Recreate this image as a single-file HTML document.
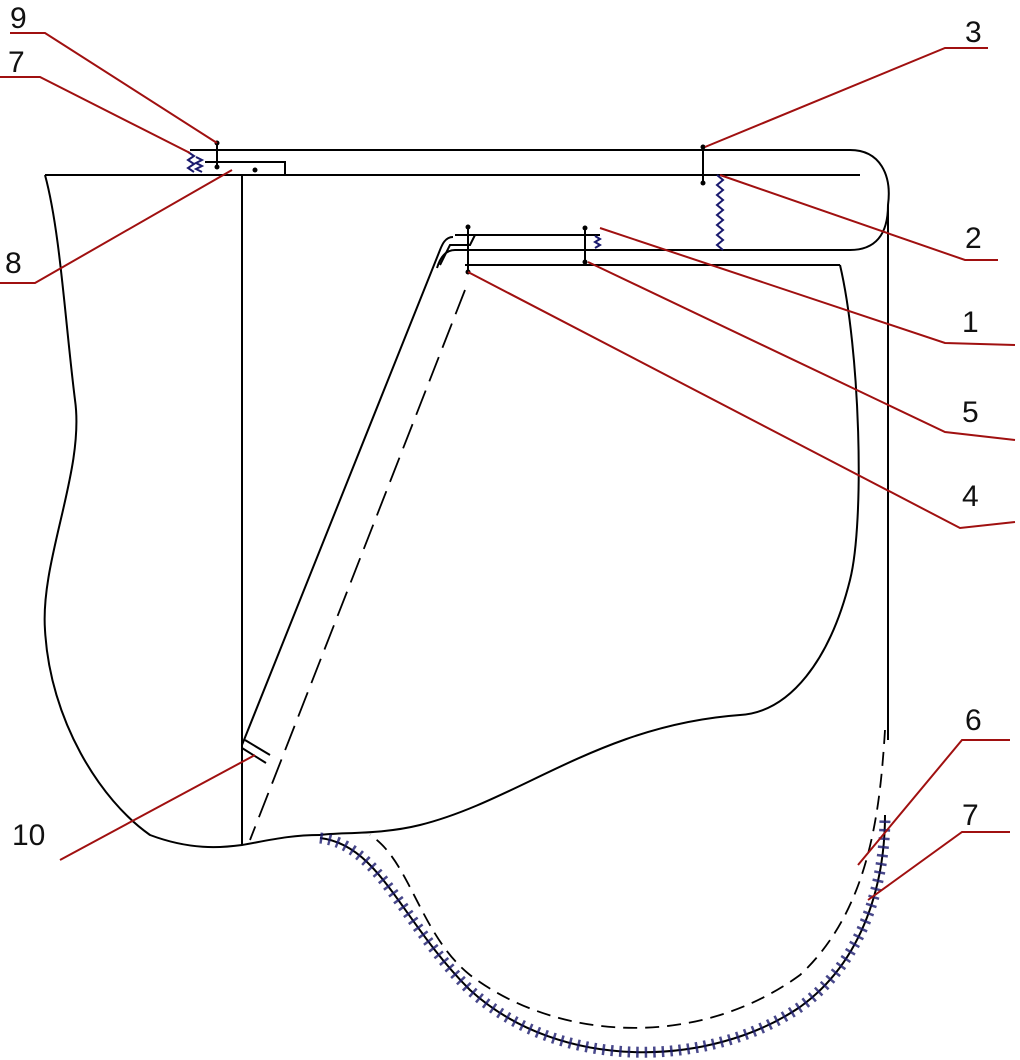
<!DOCTYPE html>
<html><head><style>body{margin:0;background:#fff}svg{display:block}text{font-family:"Liberation Sans",sans-serif;font-size:30px;fill:#111}</style></head>
<body>
<svg width="1020" height="1060" viewBox="0 0 1020 1060" xmlns="http://www.w3.org/2000/svg">
<g fill="none" stroke="#000" stroke-width="2">
<path d="M190,150 L850,150 C880,150 892,175 888,205 L888,740"/>
<path d="M888,205 C888,235 875,250 850,250 L455,250 C445,250 440,258 437,268"/>
<path d="M45,175 L860,175"/>
<path d="M285,175 L285,162 L205,162"/>
<path d="M455,235 L600,235"/>
<path d="M475,235 L470,245 L450,245 L440,265"/>
<path d="M453,237 C445,237 442,245 440,250 L242,745"/>
<path d="M465,265 L840,265"/>
<path d="M840,265 C860,350 865,520 850,580 C830,660 790,712 740,715 C600,725 520,800 420,825 C380,835 340,832 320,835"/>
<path d="M45,175 C60,230 65,320 75,400 C85,470 40,560 45,630 C50,720 100,800 150,835 C190,850 220,848 242,845 C270,840 290,835 320,835"/>
<line x1="242" y1="175" x2="242" y2="845"/>
<path d="M320,838 C380,845 400,920 470,990 C560,1072 710,1068 800,1007 C865,960 885,880 885,815"/>
<line x1="245" y1="740" x2="270" y2="755"/>
<line x1="242" y1="748" x2="266" y2="763"/>
</g>
<g fill="none" stroke="#000" stroke-width="1.8" stroke-dasharray="26 10">
<path d="M465,290 L250,840"/>
<path d="M885,730 C880,810 870,910 800,975 C700,1048 560,1043 470,975 C420,935 410,860 370,835" stroke-dasharray="14 8"/>
</g>
<g fill="none" stroke="#1a1a6e" stroke-width="2">
<path d="M320,838 C380,845 400,920 470,990 C560,1072 710,1068 800,1007 C865,960 885,880 885,815" stroke-width="11" stroke-dasharray="2.5 6" opacity="0.8"/>
<path d="M717,175 l6,5 -6,5 6,5 -6,5 6,5 -6,5 6,5 -6,5 6,5 -6,5 6,5 -6,5 6,5 -6,5 6,5"/>
<path d="M595,236 l5,3 -5,3 5,3 -5,3"/>
<path d="M188,152 l6,4 -6,4 6,4 -6,4 6,4 M196,157 l6,3 -6,3 6,3 -6,3 6,3"/>
</g>
<g stroke="#000" stroke-width="2">
<line x1="217" y1="143" x2="217" y2="168"/>
<line x1="703" y1="147" x2="703" y2="183"/>
<line x1="585" y1="228" x2="585" y2="262"/>
<line x1="468" y1="227" x2="468" y2="272"/>
</g>
<g fill="#000">
<circle cx="217" cy="143" r="2.5"/><circle cx="217" cy="167" r="2.5"/>
<circle cx="703" cy="147" r="2.5"/><circle cx="703" cy="183" r="2.5"/>
<circle cx="585" cy="228" r="2.5"/><circle cx="585" cy="262" r="2.5"/>
<circle cx="468" cy="227" r="2.5"/><circle cx="468" cy="272" r="2.5"/>
<circle cx="255" cy="170" r="2.5"/>
</g>
<g fill="none" stroke="#a01010" stroke-width="2">
<path d="M10,33 L45,33 L217,143"/>
<path d="M0,77 L40,77 L190,153"/>
<path d="M0,283 L35,283 L232,170"/>
<path d="M988,48 L945,48 L705,147"/>
<path d="M998,260 L965,260 L720,175"/>
<path d="M1015,345 L945,343 L600,228"/>
<path d="M1015,440 L945,432 L588,262"/>
<path d="M1015,522 L960,528 L468,272"/>
<path d="M1010,740 L962,740 L858,865"/>
<path d="M1010,832 L962,832 L868,900"/>
<path d="M60,860 L255,755"/>
</g>
<text x="10" y="28">9</text>
<text x="8" y="72">7</text>
<text x="5" y="273">8</text>
<text x="965" y="42">3</text>
<text x="965" y="248">2</text>
<text x="962" y="332">1</text>
<text x="962" y="422">5</text>
<text x="962" y="506">4</text>
<text x="965" y="730">6</text>
<text x="962" y="825">7</text>
<text x="12" y="845">10</text>
</svg>
</body></html>
